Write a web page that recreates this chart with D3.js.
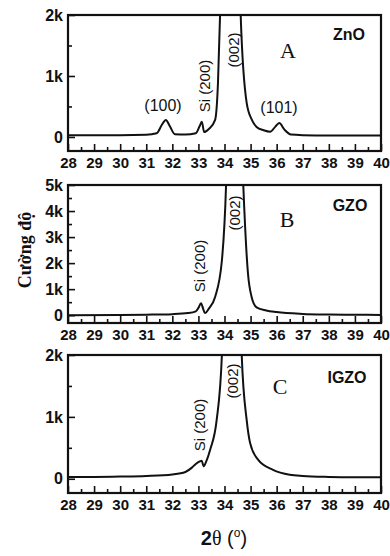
<!DOCTYPE html>
<html>
<head>
<meta charset="utf-8">
<script src="https://cdn.jsdelivr.net/npm/d3@7"></script>
<style>
  body { margin: 0; background: #fff; }
  svg { display: block; }
  text { font-family: "Liberation Sans", Arial, sans-serif; fill: #111; }
</style>
</head>
<body>
<svg id="chart" width="390" height="556"></svg>
<script>
// 2-theta (degrees) and intensity (counts)
const znoTheta = [28, 29, 30, 31, 31.4, 31.6, 31.75, 31.9, 32.1, 32.5, 32.9, 33.05, 33.13, 33.22, 33.4, 33.64, 33.75, 33.83, 34.0, 34.22, 34.45, 34.62, 34.85, 35.05, 35.23, 35.5, 35.75, 35.95, 36.1, 36.3, 36.55, 37, 38, 39, 40];
const znoCounts = [30, 30, 30, 35, 60, 200, 280, 180, 45, 40, 60, 180, 250, 80, 130, 280, 890, 2000, 6000, 10000, 6000, 2000, 560, 280, 165, 110, 85, 170, 230, 120, 40, 30, 25, 25, 25];

const gzoTheta = [28, 30, 31, 32, 32.6, 32.9, 33.0, 33.1, 33.18, 33.25, 33.4, 33.64, 33.9, 34.06, 34.25, 34.45, 34.72, 34.9, 35.04, 35.23, 35.6, 36, 37, 38, 39, 40];
const gzoCounts = [0, 10, 20, 40, 80, 150, 280, 460, 250, 80, 250, 700, 2100, 5000, 14000, 14000, 5000, 1600, 700, 300, 180, 120, 50, 25, 15, 10];

const igzoTheta = [28, 29, 30, 31, 32, 32.5, 32.75, 32.9, 33.05, 33.13, 33.2, 33.3, 33.45, 33.7, 33.9, 34.15, 34.45, 34.66, 34.85, 34.98, 35.3, 35.86, 36.5, 37, 38, 39, 40];
const igzoCounts = [30, 30, 35, 45, 70, 110, 180, 240, 280, 290, 200, 280, 470, 950, 2000, 9000, 9000, 2000, 950, 580, 300, 145, 65, 45, 30, 25, 25];

const xTicks = [28, 29, 30, 31, 32, 33, 34, 35, 36, 37, 38, 39, 40];
const yTicksSmall = [0, 1000, 2000];
const yTicksBig = [0, 1000, 2000, 3000, 4000, 5000];

const panels = [
  { theta: znoTheta, counts: znoCounts, top: 15, bottom: 151, yMin: -230, yMax: 2000, ticks: yTicksSmall,
    sample: "ZnO", letter: "A", letterX: 288, sampleX: 349, letterY: 58, sampleY: 40,
    peaks: [
      { text: "(100)", x: 163, y: 111, rot: false },
      { text: "(101)", x: 279, y: 113, rot: false },
      { text: "Si (200)", x: 205, y: 86, rot: true },
      { text: "(002)", x: 234, y: 50, rot: true }
    ] },
  { theta: gzoTheta, counts: gzoCounts, top: 185, bottom: 323, yMin: -300, yMax: 5000, ticks: yTicksBig,
    sample: "GZO", letter: "B", letterX: 287, sampleX: 350, letterY: 227, sampleY: 211,
    peaks: [
      { text: "Si (200)", x: 200, y: 266, rot: true },
      { text: "(002)", x: 235, y: 213, rot: true }
    ] },
  { theta: igzoTheta, counts: igzoCounts, top: 355, bottom: 493, yMin: -230, yMax: 2000, ticks: yTicksSmall,
    sample: "IGZO", letter: "C", letterX: 280, sampleX: 347, letterY: 394, sampleY: 383,
    peaks: [
      { text: "Si (200)", x: 200, y: 425, rot: true },
      { text: "(002)", x: 233, y: 381, rot: true }
    ] }
];

const svg = d3.select("#chart");
const left = 68, right = 381;
const x = d3.scaleLinear().domain([28, 40]).range([left, right]);
const halfTicks = d3.range(28.5, 40, 1);

panels.forEach((p, i) => {
  const y = d3.scaleLinear().domain([p.yMin, p.yMax]).range([p.bottom, p.top]);
  const g = svg.append("g");

  g.append("clipPath").attr("id", "clip" + i)
    .append("rect").attr("x", left).attr("y", p.top)
    .attr("width", right - left).attr("height", p.bottom - p.top);

  // x axis, ticks pointing inwards
  const xAxis = g.append("g").attr("transform", `translate(0,${p.bottom})`)
    .call(d3.axisBottom(x).tickValues(xTicks).tickSizeInner(-7).tickSizeOuter(0).tickPadding(6));
  xAxis.selectAll(".tick text").attr("font-size", 15).attr("font-weight", "bold");
  xAxis.selectAll("line, path").attr("stroke", "#111").attr("stroke-width", 1.6);
  xAxis.select(".domain").remove();
  g.append("g").attr("transform", `translate(0,${p.bottom})`)
    .call(d3.axisBottom(x).tickValues(halfTicks).tickSizeInner(-4).tickSizeOuter(0).tickFormat(""))
    .call(a => a.select(".domain").remove())
    .selectAll("line").attr("stroke", "#111").attr("stroke-width", 1.6);

  // y axis
  const fmt = d => d === 0 ? "0" : (d / 1000) + "k";
  const yAxis = g.append("g").attr("transform", `translate(${left},0)`)
    .call(d3.axisLeft(y).tickValues(p.ticks).tickFormat(fmt).tickSizeInner(-7).tickSizeOuter(0).tickPadding(5));
  yAxis.selectAll(".tick text").attr("font-size", 16).attr("font-weight", "bold");
  yAxis.selectAll("line").attr("stroke", "#111").attr("stroke-width", 1.6);
  yAxis.select(".domain").remove();
  const minor = p.ticks.slice(0, -1).map(d => d + 500);
  g.append("g").attr("transform", `translate(${left},0)`)
    .call(d3.axisLeft(y).tickValues(minor).tickSizeInner(-4).tickSizeOuter(0).tickFormat(""))
    .call(a => a.select(".domain").remove())
    .selectAll("line").attr("stroke", "#111").attr("stroke-width", 1.6);

  // curve
  const line = d3.line().x(d => x(d[0])).y(d => y(d[1])).curve(d3.curveMonotoneX);
  g.append("path")
    .datum(d3.zip(p.theta, p.counts))
    .attr("clip-path", `url(#clip${i})`)
    .attr("d", line)
    .attr("fill", "none").attr("stroke", "#111").attr("stroke-width", 2);

  // frame
  g.append("rect").attr("x", left).attr("y", p.top)
    .attr("width", right - left).attr("height", p.bottom - p.top)
    .attr("fill", "none").attr("stroke", "#111").attr("stroke-width", 2.2);

  // labels
  g.append("text").attr("x", p.sampleX).attr("y", p.sampleY)
    .attr("text-anchor", "middle").attr("font-size", 16).attr("font-weight", "bold").text(p.sample);
  g.append("text").attr("x", p.letterX).attr("y", p.letterY)
    .attr("text-anchor", "middle").attr("font-size", 22)
    .style("font-family", "'Liberation Serif', 'Times New Roman', serif").text(p.letter);

  p.peaks.forEach(k => {
    const t = g.append("text").attr("text-anchor", "middle").attr("font-size", k.rot ? 15 : 16).text(k.text);
    if (k.rot) {
      t.attr("transform", `translate(${k.x},${k.y}) rotate(-90)`).attr("dy", "0.35em");
    } else {
      t.attr("x", k.x).attr("y", k.y);
    }
  });
});

// axis titles
svg.append("text")
  .attr("transform", "translate(25,250) rotate(-90)")
  .attr("text-anchor", "middle").attr("dy", "0.35em")
  .attr("font-size", 18).attr("font-weight", "bold")
  .style("font-family", "'Liberation Serif', 'Times New Roman', serif")
  .text("Cường độ");

const xt = svg.append("text").attr("x", 224).attr("y", 545)
  .attr("text-anchor", "middle").attr("font-size", 20);
xt.append("tspan").attr("font-weight", "bold").text("2");
xt.append("tspan").style("font-family", "'Liberation Serif', serif").text("θ");
xt.append("tspan").text(" (");
xt.append("tspan").attr("font-size", 12).attr("dy", -8).text("o");
xt.append("tspan").attr("dy", 8).text(")");
</script>
</body>
</html>
